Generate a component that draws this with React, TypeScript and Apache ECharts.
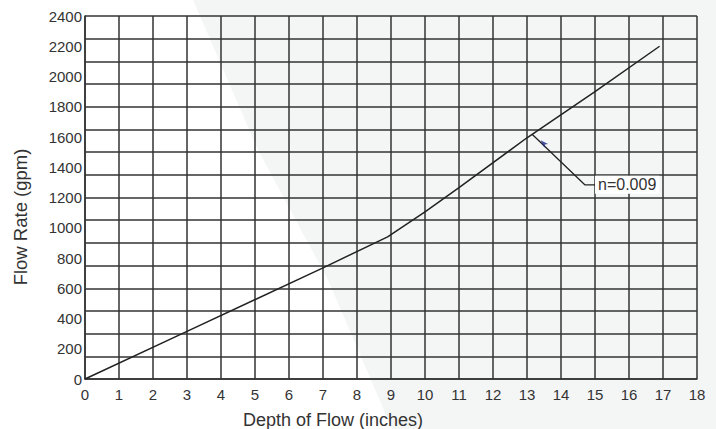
import React, { useEffect, useRef } from "react";
import * as echarts from "echarts";

// ---- data ----
const depthTicks = { min: 0, max: 18, interval: 1 };
const rateLabelTicks = { min: 0, max: 2400, interval: 200 };
const rateGridTicks = { min: 0, max: 2400, interval: 150 };

const flowDepth = [0, 3, 7, 8.9, 10, 11, 13, 15, 16.9];
const flowRate = [0, 315, 735, 940, 1105, 1265, 1595, 1900, 2200];

const annotationText = "n=0.009";
const leaderDepth = [13.15, 14.7, 15.0];
const leaderRate = [1618, 1284, 1284];
const arrowDepth = [13.4];
const arrowRate = [1578];

const xName = "Depth of Flow (inches)";
const yName = "Flow Rate (gpm)";

const FONT = '"Liberation Sans", Arial, Helvetica, sans-serif';
const TEXT = "#333";
const GRID = "#333";

export default function App() {
  const ref = useRef<HTMLDivElement>(null);

  useEffect(() => {
    document.body.style.margin = "0";
    if (!ref.current) return;
    const chart = echarts.init(ref.current, undefined, { renderer: "svg" });

    const curve = flowDepth.map((d, i) => [d, flowRate[i]]);
    const leader = leaderDepth.map((d, i) => [d, leaderRate[i]]);
    const arrow = arrowDepth.map((d, i) => [d, arrowRate[i]]);

    chart.setOption({
      animation: false,
      backgroundColor: "#ffffff",
      textStyle: { fontFamily: FONT },
      grid: { left: 85, right: 19, top: 16, bottom: 50, containLabel: false },
      graphic: [
        {
          type: "polygon",
          z: -10,
          silent: true,
          shape: {
            points: [
              [193, 0],
              [258, 150],
              [328, 280],
              [392, 429],
              [716, 429],
              [716, 0],
            ],
          },
          style: { fill: "#f4f6f6" },
        },
        {
          type: "text",
          x: 333,
          y: 420,
          style: {
            text: xName,
            fontSize: 18,
            fontFamily: FONT,
            fill: TEXT,
            align: "center",
            verticalAlign: "middle",
          },
        },
        {
          type: "text",
          x: 20,
          y: 217,
          rotation: Math.PI / 2,
          style: {
            text: yName,
            fontSize: 18.5,
            fontFamily: FONT,
            fill: TEXT,
            align: "center",
            verticalAlign: "middle",
          },
        },
      ],
      xAxis: {
        type: "value",
        min: depthTicks.min,
        max: depthTicks.max,
        interval: depthTicks.interval,
        axisLine: { show: true, lineStyle: { color: GRID, width: 1.5 } },
        axisTick: { show: false },
        axisLabel: {
          fontSize: 15,
          color: TEXT,
          margin: 8,
          fontFamily: FONT,
          formatter: (v: number) => String(v),
        },
        splitLine: { show: true, lineStyle: { color: GRID, width: 1.5 } },
      },
      yAxis: [
        {
          type: "value",
          position: "left",
          min: rateLabelTicks.min,
          max: rateLabelTicks.max,
          interval: rateLabelTicks.interval,
          axisLine: { show: true, lineStyle: { color: GRID, width: 1.5 } },
          axisTick: { show: false },
          axisLabel: {
            fontSize: 15,
            color: TEXT,
            margin: 3,
            fontFamily: FONT,
            formatter: (v: number) => String(v),
          },
          splitLine: { show: false },
        },
        {
          type: "value",
          position: "left",
          min: rateGridTicks.min,
          max: rateGridTicks.max,
          interval: rateGridTicks.interval,
          axisLine: { show: false },
          axisTick: { show: false },
          axisLabel: { show: false },
          splitLine: { show: true, lineStyle: { color: GRID, width: 1.5 } },
        },
      ],
      series: [
        {
          type: "line",
          name: annotationText,
          data: curve,
          showSymbol: false,
          symbol: "none",
          lineStyle: { color: "#222", width: 1.5 },
          z: 5,
        },
        {
          type: "line",
          name: "leader",
          data: leader,
          showSymbol: false,
          symbol: "none",
          lineStyle: { color: "#222", width: 1.3 },
          z: 6,
          endLabel: {
            show: true,
            formatter: annotationText,
            fontSize: 16,
            fontFamily: FONT,
            color: TEXT,
            backgroundColor: "#ffffff",
            padding: [1, 3],
            distance: 0,
          },
        },
        {
          type: "scatter",
          name: "arrow",
          data: arrow,
          symbol: "arrow",
          symbolSize: [4, 8],
          symbolRotate: 45,
          itemStyle: { color: "#1b2a8c" },
          z: 7,
        },
      ],
    });

    return () => chart.dispose();
  }, []);

  return <div ref={ref} style={{ width: 716, height: 429 }} />;
}
